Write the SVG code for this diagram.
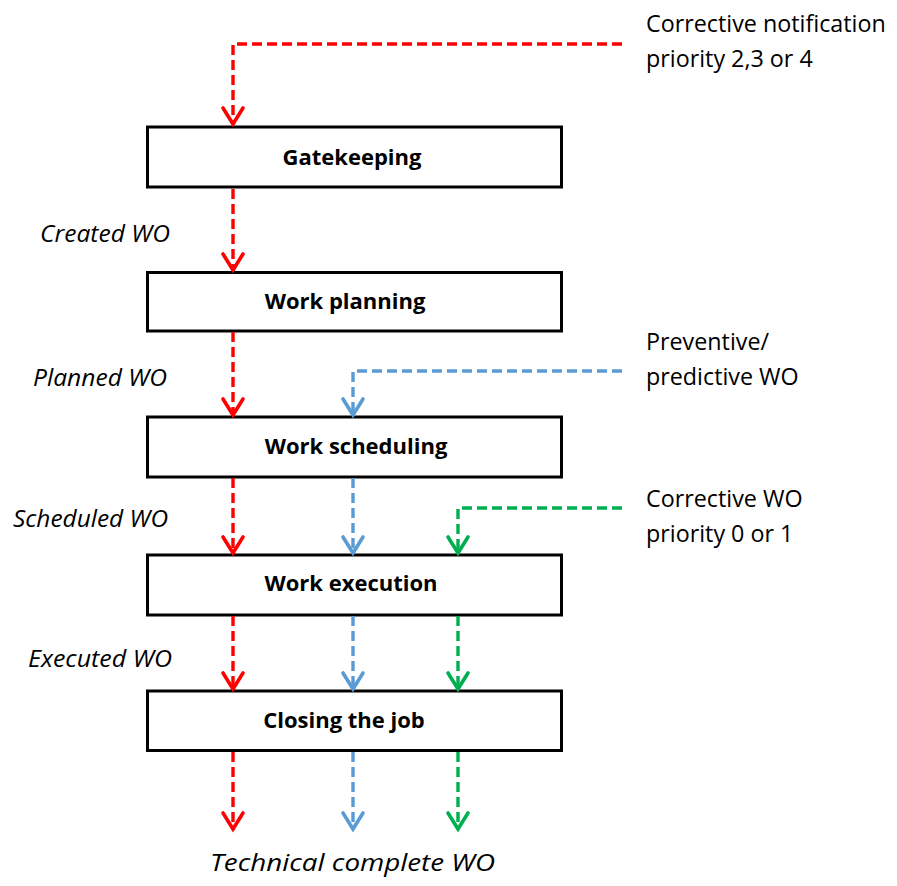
<svg xmlns="http://www.w3.org/2000/svg" width="897" height="886" viewBox="0 0 897 886">
  <style>
    .box { fill: #ffffff; stroke: #000000; stroke-width: 3; }
    .title { font-family: "Open Sans", "Liberation Sans", sans-serif; font-weight: bold; font-size: 22px; fill: #000000; text-anchor: middle; }
    .state { font-family: "Open Sans", "Liberation Sans", sans-serif; font-style: italic; font-size: 24px; fill: #000000; }
    .note { font-family: "Open Sans", "Liberation Sans", sans-serif; font-size: 23.3px; fill: #000000; }
    .flow { fill: none; stroke-width: 3.4; stroke-dasharray: 10 5; stroke-linejoin: round; }
    .red { stroke: #ff0000; }
    .blue { stroke: #5b9bd5; }
    .green { stroke: #00b050; }
    .head { fill: none; stroke-width: 3.6; stroke-linecap: round; stroke-linejoin: miter; }
  </style>
  <defs>
    <marker id="arrow-red" markerUnits="userSpaceOnUse" viewBox="-24 -16 28 32" refX="0" refY="0" markerWidth="28" markerHeight="32" orient="auto" overflow="visible">
      <path class="head" d="M-17,-10 L-1,0 L-17,10" stroke="#ff0000"/>
    </marker>
    <marker id="arrow-blue" markerUnits="userSpaceOnUse" viewBox="-24 -16 28 32" refX="0" refY="0" markerWidth="28" markerHeight="32" orient="auto" overflow="visible">
      <path class="head" d="M-17,-10 L-1,0 L-17,10" stroke="#5b9bd5"/>
    </marker>
    <marker id="arrow-green" markerUnits="userSpaceOnUse" viewBox="-24 -16 28 32" refX="0" refY="0" markerWidth="28" markerHeight="32" orient="auto" overflow="visible">
      <path class="head" d="M-17,-10 L-1,0 L-17,10" stroke="#00b050"/>
    </marker>
  </defs>

  <rect width="897" height="886" fill="#ffffff"/>

  <!-- process steps -->
  <g id="gatekeeping">
    <rect class="box" x="147.5" y="127" width="414" height="60"/>
    <text class="title" x="352" y="165">Gatekeeping</text>
  </g>
  <g id="work-planning">
    <rect class="box" x="147.5" y="272.5" width="414" height="58.5"/>
    <text class="title" x="345" y="309">Work planning</text>
  </g>
  <g id="work-scheduling">
    <rect class="box" x="147.5" y="417" width="414" height="60"/>
    <text class="title" x="356" y="454">Work scheduling</text>
  </g>
  <g id="work-execution">
    <rect class="box" x="147.5" y="555" width="414" height="60"/>
    <text class="title" x="351" y="591">Work execution</text>
  </g>
  <g id="closing-the-job">
    <rect class="box" x="147.5" y="691" width="414" height="59.5"/>
    <text class="title" x="344" y="728">Closing the job</text>
  </g>

  <!-- work order flows -->
  <g id="connectors">
    <!-- corrective notification, priority 2-4 -->
    <path class="flow red" d="M622,44 H233 V125" marker-end="url(#arrow-red)"/>
    <path class="flow red" d="M233,189 V271" marker-end="url(#arrow-red)"/>
    <path class="flow red" d="M233,332 V416" marker-end="url(#arrow-red)"/>
    <path class="flow red" d="M233,478 V554" marker-end="url(#arrow-red)"/>
    <path class="flow red" d="M233,616 V690" marker-end="url(#arrow-red)"/>
    <path class="flow red" d="M233,752 V830" marker-end="url(#arrow-red)"/>
    <!-- preventive / predictive -->
    <path class="flow blue" d="M622,371 H353 V416" marker-end="url(#arrow-blue)"/>
    <path class="flow blue" d="M353,478 V554" marker-end="url(#arrow-blue)"/>
    <path class="flow blue" d="M353,616 V690" marker-end="url(#arrow-blue)"/>
    <path class="flow blue" d="M353,752 V830" marker-end="url(#arrow-blue)"/>
    <!-- corrective WO, priority 0-1 -->
    <path class="flow green" d="M622,508 H458 V554" marker-end="url(#arrow-green)"/>
    <path class="flow green" d="M458,616 V690" marker-end="url(#arrow-green)"/>
    <path class="flow green" d="M458,752 V830" marker-end="url(#arrow-green)"/>
  </g>

  <!-- work order states -->
  <g id="states">
    <text class="state" x="40" y="242" textLength="130" lengthAdjust="spacingAndGlyphs">Created WO</text>
    <text class="state" x="33" y="386" textLength="134" lengthAdjust="spacingAndGlyphs">Planned WO</text>
    <text class="state" x="13" y="527" textLength="155" lengthAdjust="spacingAndGlyphs">Scheduled WO</text>
    <text class="state" x="28" y="667" textLength="144" lengthAdjust="spacingAndGlyphs">Executed WO</text>
    <text class="state" x="210" y="871" textLength="285" lengthAdjust="spacingAndGlyphs">Technical complete WO</text>
  </g>

  <!-- incoming sources -->
  <g id="sources">
    <text class="note" x="646" y="32">Corrective notification</text>
    <text class="note" x="646" y="67">priority 2,3 or 4</text>
    <text class="note" x="646" y="350">Preventive/</text>
    <text class="note" x="646" y="385">predictive WO</text>
    <text class="note" x="646" y="507">Corrective WO</text>
    <text class="note" x="646" y="542">priority 0 or 1</text>
  </g>
</svg>
